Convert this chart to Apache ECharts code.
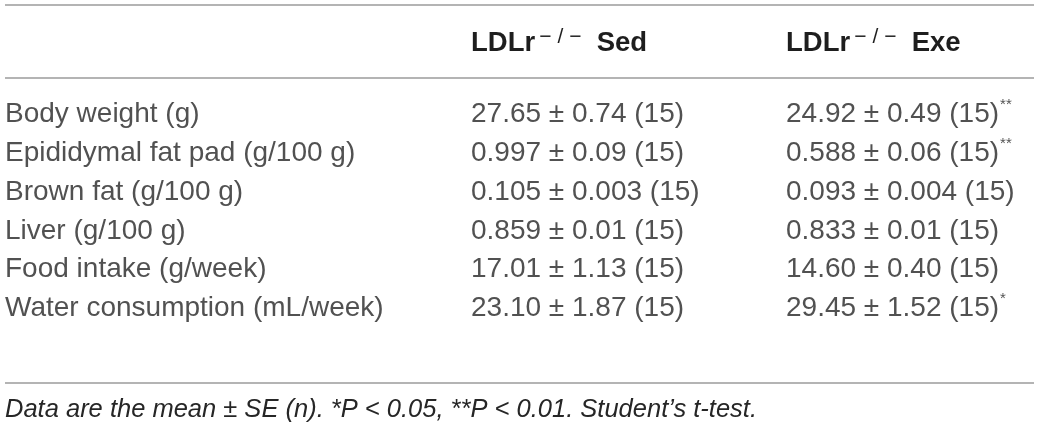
<!DOCTYPE html>
<html>
<head>
<meta charset="utf-8">
<script src="https://cdn.jsdelivr.net/npm/echarts@6/dist/echarts.min.js"></script>
<style>
  html, body { margin: 0; padding: 0; background: #fff; }
  #main { width: 1039px; height: 433px; }
</style>
</head>
<body>
<div id="main"></div>
<script>
'use strict';

// table content
var rowNames = [
    'Body weight (g)',
    'Epididymal fat pad (g/100 g)',
    'Brown fat (g/100 g)',
    'Liver (g/100 g)',
    'Food intake (g/week)',
    'Water consumption (mL/week)'
];
var groupNames = ['Sed', 'Exe'];
var sedValues = ['27.65 ± 0.74 (15)', '0.997 ± 0.09 (15)', '0.105 ± 0.003 (15)',
                 '0.859 ± 0.01 (15)', '17.01 ± 1.13 (15)', '23.10 ± 1.87 (15)'];
var exeValues = ['24.92 ± 0.49 (15)', '0.588 ± 0.06 (15)', '0.093 ± 0.004 (15)',
                 '0.833 ± 0.01 (15)', '14.60 ± 0.40 (15)', '29.45 ± 1.52 (15)'];
var exeSig = ['**', '**', '', '', '', '*'];
var footnote = 'Data are the mean ± SE (n). *P < 0.05, **P < 0.01. Student\u2019s t-test.';

// layout
var W = 1039;
var colX = [5, 471, 786];
var font = '"Liberation Sans", Arial, Helvetica, sans-serif';
var textColor = '#262626';
var ruleColor = '#b4b4b4';

function cellSeries(col, texts, sig) {
    var data = [];
    for (var i = 0; i < rowNames.length; i++) {
        data.push({
            value: [colX[col], rowNames[i]],
            sig: sig ? sig[i] : ''
        });
    }
    return {
        type: 'scatter',
        symbolSize: 0,
        silent: true,
        data: data,
        label: {
            show: true,
            position: 'inside',
            align: 'left',
            verticalAlign: 'middle',
            formatter: function (p) {
                var t = texts[p.dataIndex];
                var s = p.data.sig;
                return '{t|' + t + '}' + (s ? '{s|' + s + '}' : '');
            },
            rich: {
                t: { fontFamily: font, fontSize: 28, color: textColor, lineHeight: 34 },
                s: { fontFamily: font, fontSize: 15, color: textColor, lineHeight: 34, verticalAlign: 'top', padding: [0, 0, 12, 1] }
            }
        }
    };
}

var my_chart = echarts.init(document.getElementById('main'), null, { renderer: 'canvas' });

function headerText(x, name) {
    return {
        type: 'text',
        left: x,
        top: 27,
        style: {
            text: '{b|LDLr}{u|\u2009\u2212 / \u2212}{b|  ' + name + '}',
            rich: {
                b: { fontFamily: font, fontSize: 27.5, fontWeight: 'bold', fill: '#1e1e1e', lineHeight: 32 },
                u: { fontFamily: font, fontSize: 21, fill: '#1e1e1e', lineHeight: 32, verticalAlign: 'top', padding: [0, 0, 12, 0] }
            }
        }
    };
}

function rule(y) {
    return {
        type: 'line',
        shape: { x1: 5, y1: y, x2: 1034, y2: y },
        style: { stroke: ruleColor, lineWidth: 2 }
    };
}

my_chart.setOption({
    animation: false,
    grid: { left: 0, right: 0, top: 95, height: 232.8 },
    xAxis: { type: 'value', min: 0, max: W, show: false },
    yAxis: { type: 'category', data: rowNames, inverse: true, show: false },
    series: [
        cellSeries(0, rowNames, null),
        cellSeries(1, sedValues, null),
        cellSeries(2, exeValues, exeSig)
    ],
    graphic: [
        rule(5),
        rule(78),
        rule(383),
        headerText(colX[1], groupNames[0]),
        headerText(colX[2], groupNames[1]),
        {
            type: 'text',
            left: 5,
            top: 397,
            style: {
                text: footnote,
                fontFamily: font,
                fontSize: 25.5,
                fontStyle: 'italic',
                fill: textColor
            }
        }
    ]
});
</script>
</body>
</html>
